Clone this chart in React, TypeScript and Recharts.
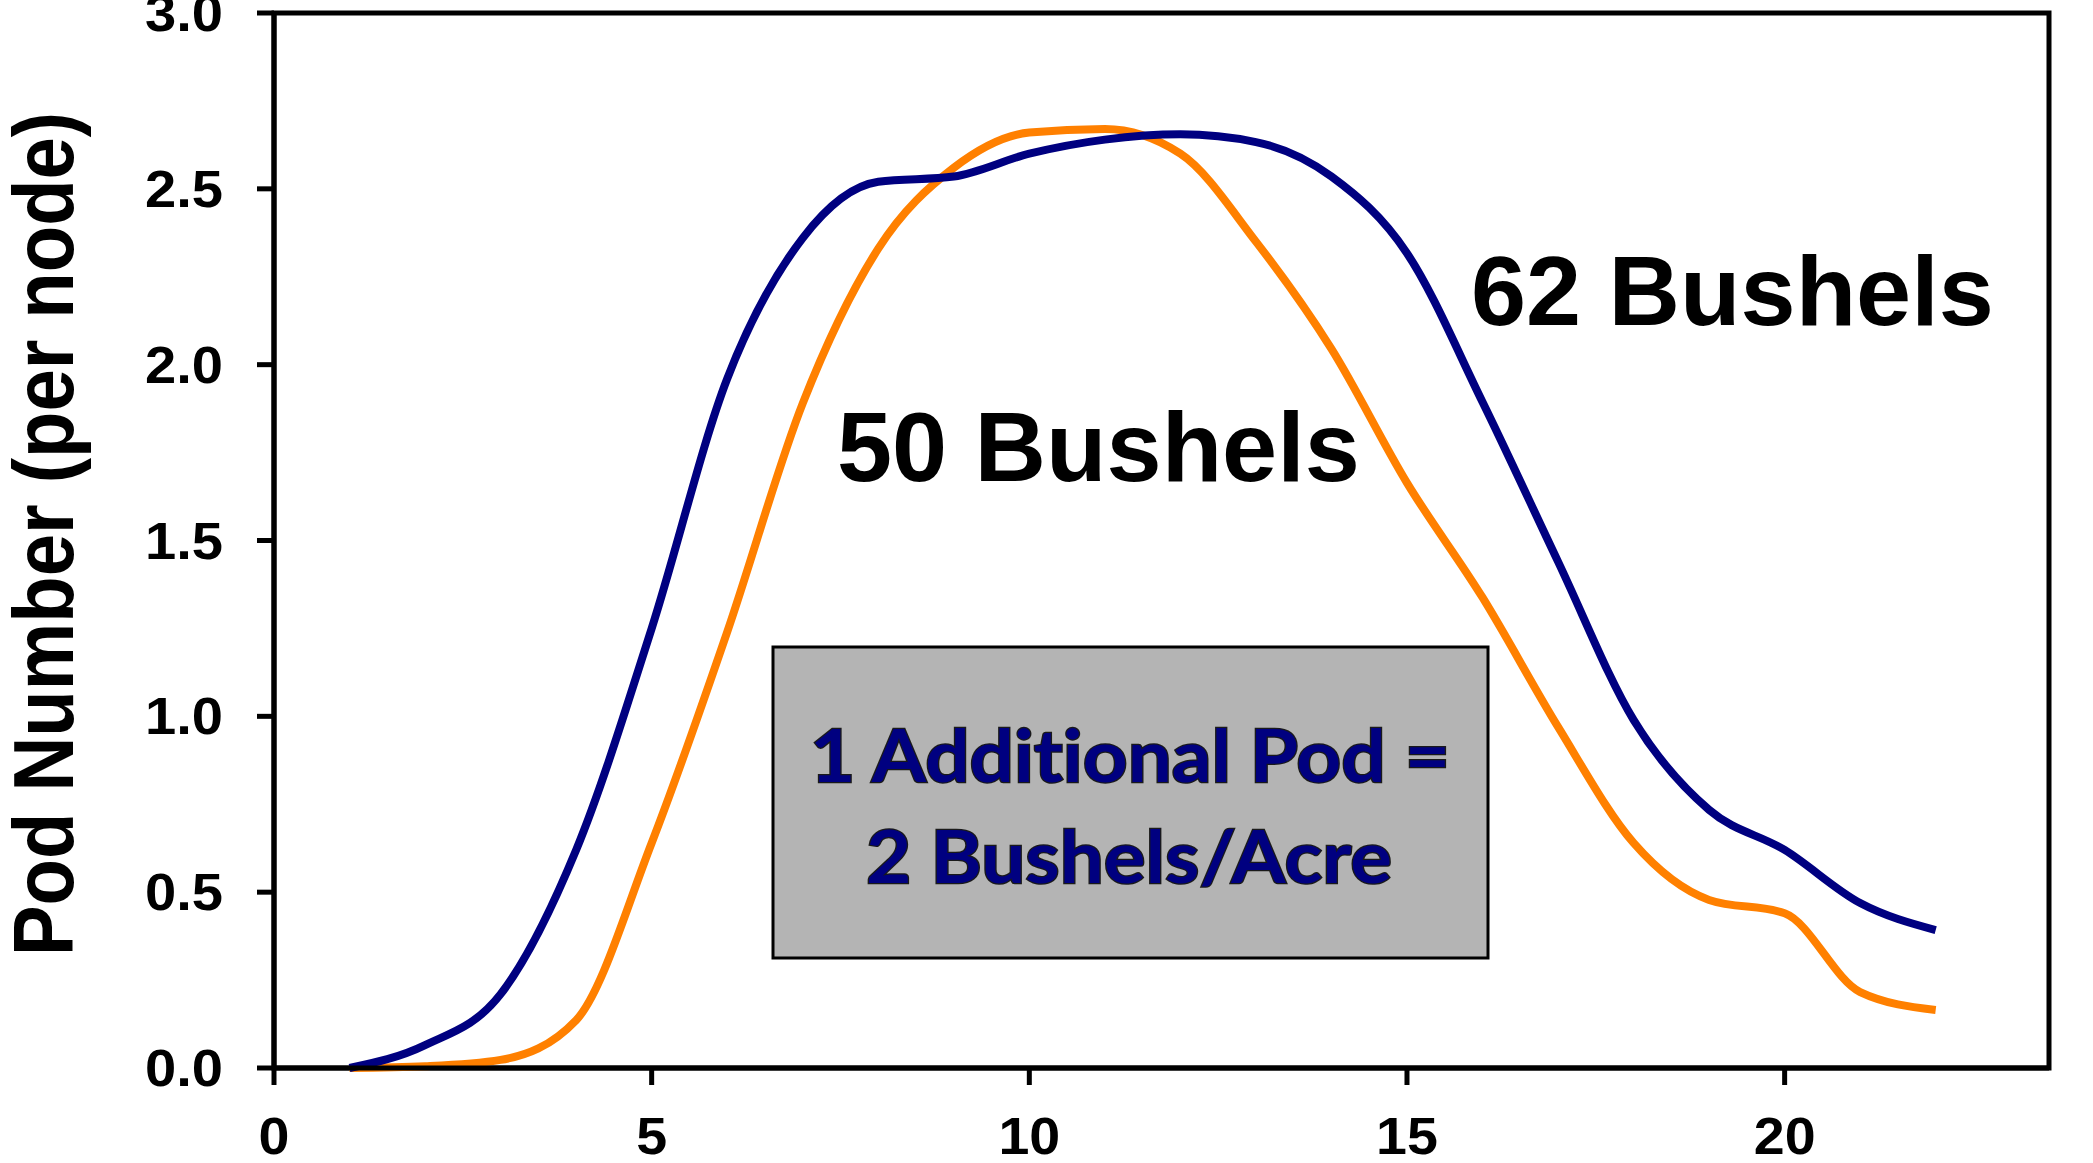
import React from 'react';
import {
  LineChart,
  Line,
  XAxis,
  YAxis,
  ReferenceArea,
} from 'recharts';

// node position on the stem
const nodes = [1, 2, 3, 4, 5, 6, 7, 8, 9, 10, 11, 12, 13, 14, 15, 16, 17, 18, 19, 20, 21, 22];
// pods per node, 62 bu/A field
const pods62 = [0.0, 0.065, 0.21, 0.62, 1.25, 1.96, 2.36, 2.52, 2.535, 2.6, 2.64, 2.655, 2.633, 2.535, 2.317, 1.894, 1.44, 0.99, 0.734, 0.62, 0.469, 0.392];
// pods per node, 50 bu/A field
const pods50 = [0.0, 0.005, 0.023, 0.136, 0.64, 1.24, 1.89, 2.33, 2.56, 2.66, 2.67, 2.6, 2.35, 2.045, 1.664, 1.338, 0.97, 0.64, 0.478, 0.44, 0.216, 0.165];

const xTicks = [0, 5, 10, 15, 20];
const yTicks = [0, 0.5, 1, 1.5, 2, 2.5, 3];

const data = nodes.map((n, i) => ({ node: n, b62: pods62[i], b50: pods50[i] }));

const FONT = "'Liberation Sans', Arial, Helvetica, sans-serif";
const W = 2093;
const H = 1163;

const XTick = (props: any) => {
  const { x, y, payload } = props;
  return (
    <g transform={`translate(${x},${y}) scale(1.09,1)`}>
      <text x={0} y={0} dy={35} textAnchor="middle" fontFamily={FONT} fontWeight="bold" fontSize={51} fill="#000">
        {payload.value}
      </text>
    </g>
  );
};

const YTick = (props: any) => {
  const { x, y, payload } = props;
  return (
    <g transform={`translate(${x},${y}) scale(1.1,1)`}>
      <text x={0} y={0} dy={18} textAnchor="end" fontFamily={FONT} fontWeight="bold" fontSize={51} fill="#000">
        {Number(payload.value).toFixed(1)}
      </text>
    </g>
  );
};

const boxText = {
  fontFamily: "Lato, 'Open Sans', sans-serif",
  fontWeight: 'bold' as const,
  fontSize: 73,
  fill: '#000080',
  stroke: '#1a1a1a',
  strokeWidth: 2.5,
  paintOrder: 'stroke' as const,
  style: { fontVariantLigatures: 'none' as const },
};

export default function App() {
  return (
    <div style={{ position: 'absolute', left: 0, top: 0, width: W, height: H, background: '#fff' }}>
      <LineChart width={W} height={H} data={data} margin={{ top: 13, right: 44, left: 0, bottom: 0 }}>
        <XAxis
          dataKey="node"
          type="number"
          domain={[0, 23.5]}
          ticks={xTicks}
          allowDataOverflow
          height={95}
          axisLine={{ stroke: '#000', strokeWidth: 5 }}
          tickLine={{ stroke: '#000', strokeWidth: 5 }}
          tickSize={17}
          tickMargin={34}
          tick={<XTick />}
          interval={0}
        />
        <YAxis
          type="number"
          domain={[0, 3]}
          ticks={yTicks}
          width={274}
          axisLine={{ stroke: '#000', strokeWidth: 5 }}
          tickLine={{ stroke: '#000', strokeWidth: 5 }}
          tickSize={17}
          tickMargin={34}
          tick={<YTick />}
          interval={0}
        />
        <ReferenceArea x1={0} x2={23.5} y1={0} y2={3} fill="none" stroke="#000" strokeWidth={5} />
        <Line
          type="monotone"
          dataKey="b50"
          stroke="#FF8000"
          strokeWidth={8}
          dot={false}
          activeDot={false}
          isAnimationActive={false}
        />
        <Line
          type="monotone"
          dataKey="b62"
          stroke="#000080"
          strokeWidth={8}
          dot={false}
          activeDot={false}
          isAnimationActive={false}
        />
      </LineChart>

      {/* titles and callouts drawn over the chart */}
      <svg width={W} height={H} style={{ position: 'absolute', left: 0, top: 0, pointerEvents: 'none' }}>
        <text
          transform="translate(73,534) rotate(-90) scale(1,1.11)"
          textAnchor="middle"
          fontFamily={FONT}
          fontWeight="bold"
          fontSize={76}
          fill="#000"
        >
          Pod Number (per node)
        </text>
        <text x={837} y={481} fontFamily={FONT} fontWeight="bold" fontSize={99} fill="#000">
          50 Bushels
        </text>
        <text x={1471} y={325} fontFamily={FONT} fontWeight="bold" fontSize={99} fill="#000">
          62 Bushels
        </text>
        <rect x={773} y={647} width={715} height={311} fill="#b4b4b4" stroke="#000" strokeWidth={3} />
        <text x={1130} y={782} textAnchor="middle" textLength={640} lengthAdjust="spacingAndGlyphs" {...boxText}>
          1 Additional Pod =
        </text>
        <text x={1129} y={883} textAnchor="middle" textLength={526} lengthAdjust="spacingAndGlyphs" {...boxText}>
          2 Bushels/Acre
        </text>
      </svg>
    </div>
  );
}
